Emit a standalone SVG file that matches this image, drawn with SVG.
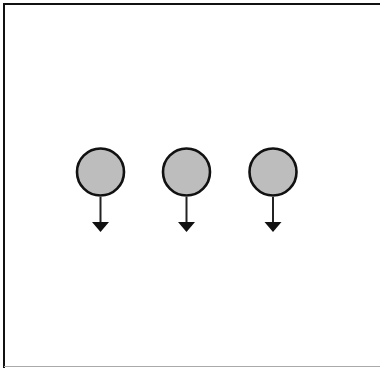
<svg xmlns="http://www.w3.org/2000/svg" width="380" height="368" viewBox="0 0 380 368">
  <defs>
    <style>
      .frame { fill: none; stroke: #111; stroke-width: 2; }
      .node { fill: #bdbdbd; stroke: #111; stroke-width: 2.6; }
      .edge { stroke: #222; stroke-width: 2; fill: none; }
      .head { fill: #111; }
    </style>
  </defs>
  <rect width="380" height="368" fill="#fff"/>
  <!-- outer frame -->
  <path class="frame" d="M4,368 V4 H380"/>
  <line x1="4" y1="366.5" x2="380" y2="366.5" stroke="#aaa" stroke-width="1"/>

  <g id="node1"><circle class="node" cx="100.5" cy="172" r="23.5"/></g>
  <g id="node2"><circle class="node" cx="186.5" cy="172" r="23.5"/></g>
  <g id="node3"><circle class="node" cx="273" cy="172" r="23.5"/></g>

  <g id="connectors">
    <line class="edge" x1="100.5" y1="197" x2="100.5" y2="223"/>
    <polygon class="head" points="92,222 109,222 100.5,232"/>
    <line class="edge" x1="186.5" y1="197" x2="186.5" y2="223"/>
    <polygon class="head" points="178,222 195,222 186.5,232"/>
    <line class="edge" x1="273" y1="197" x2="273" y2="223"/>
    <polygon class="head" points="264.5,222 281.5,222 273,232"/>
  </g>
</svg>
